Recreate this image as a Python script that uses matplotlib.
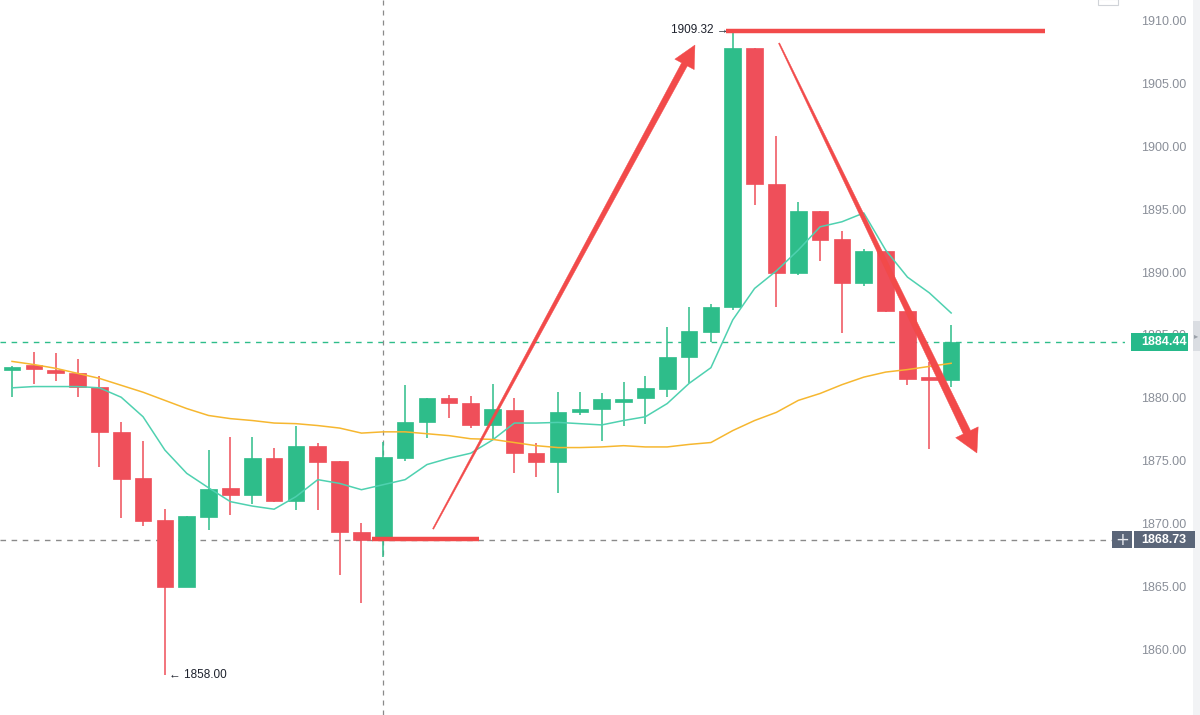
import numpy as np
import matplotlib
matplotlib.use("Agg")
import matplotlib.pyplot as plt
from matplotlib.patches import Polygon, Rectangle
from matplotlib.transforms import IdentityTransform

# ---------------- data ----------------
opens = [1882.2, 1882.6, 1882.2, 1882.0, 1880.85, 1877.3, 1873.6, 1870.3, 1864.95, 1870.5,
         1872.85, 1872.3, 1875.2, 1871.8, 1876.2, 1875.0, 1869.35, 1868.8, 1875.2, 1878.1,
         1880.0, 1879.6, 1877.85, 1879.0, 1875.6, 1874.9, 1878.9, 1879.1, 1879.65, 1880.0,
         1880.7, 1883.25, 1885.25, 1887.2, 1907.8, 1897.0, 1889.95, 1894.85, 1892.6, 1889.1,
         1891.7, 1886.9, 1881.65, 1881.4]
highs = [1882.5, 1883.65, 1883.6, 1883.1, 1881.7, 1878.1, 1876.6, 1871.2, 1870.6, 1875.85,
         1876.9, 1876.9, 1876.0, 1877.8, 1876.4, 1875.0, 1870.05, 1876.5, 1881.0, 1880.0,
         1880.2, 1880.15, 1881.1, 1880.0, 1876.4, 1880.5, 1880.5, 1880.4, 1881.3, 1881.75,
         1885.65, 1887.2, 1887.45, 1909.32, 1907.8, 1900.8, 1895.55, 1894.85, 1893.25, 1891.85,
         1891.7, 1886.9, 1882.85, 1885.8]
lows = [1880.1, 1881.1, 1881.35, 1880.1, 1874.5, 1870.45, 1869.8, 1858.0, 1864.95, 1869.5,
        1870.7, 1871.6, 1871.7, 1871.1, 1871.1, 1865.9, 1863.7, 1867.35, 1875.0, 1876.8,
        1878.4, 1877.6, 1876.65, 1874.0, 1873.7, 1872.4, 1878.6, 1876.6, 1877.8, 1877.9,
        1880.05, 1881.2, 1884.45, 1887.0, 1895.35, 1887.2, 1889.8, 1890.9, 1885.15, 1888.9,
        1886.85, 1881.0, 1875.95, 1880.9]
closes = [1882.3, 1882.3, 1881.95, 1880.85, 1877.3, 1873.55, 1870.2, 1864.95, 1870.6, 1872.75,
          1872.3, 1875.2, 1871.8, 1876.2, 1874.9, 1869.35, 1868.7, 1875.3, 1878.1, 1880.0,
          1879.6, 1877.85, 1879.1, 1875.6, 1874.9, 1878.85, 1879.1, 1879.9, 1879.95, 1880.8,
          1883.25, 1885.3, 1887.2, 1907.8, 1897.0, 1889.9, 1894.85, 1892.55, 1889.1, 1891.7,
          1886.9, 1881.5, 1881.4, 1884.44]

ma_fast = [1880.8, 1880.9, 1880.9, 1880.9, 1880.8, 1880.05, 1878.5, 1875.85, 1874.0, 1872.85,
           1871.75, 1871.4, 1871.15, 1872.15, 1873.5, 1873.2, 1872.7, 1873.1, 1873.5, 1874.7,
           1875.2, 1875.6, 1876.65, 1878.0, 1878.0, 1878.05, 1877.95, 1877.85, 1878.2, 1878.5,
           1879.55, 1881.15, 1882.4, 1886.2, 1888.7, 1890.1, 1891.75, 1893.6, 1894.0, 1894.7,
           1891.75, 1889.6, 1888.35, 1886.75]
ma_slow = [1882.9, 1882.65, 1882.35, 1881.95, 1881.55, 1881.0, 1880.45, 1879.8, 1879.15, 1878.6,
           1878.35, 1878.2, 1878.0, 1877.95, 1877.8, 1877.6, 1877.2, 1877.3, 1877.3, 1877.15,
           1877.0, 1876.75, 1876.7, 1876.45, 1876.2, 1876.05, 1876.05, 1876.1, 1876.2, 1876.1,
           1876.1, 1876.3, 1876.45, 1877.4, 1878.2, 1878.85, 1879.8, 1880.35, 1881.05, 1881.65,
           1882.05, 1882.25, 1882.5, 1882.75]

y_ticks = [1860, 1865, 1870, 1875, 1880, 1885, 1890, 1895, 1900, 1905, 1910]
last_price = 1884.44
cross_price = 1868.73
high_price = 1909.32
low_price = 1858.00
cross_index = 17

# annotation drawing points (candle index, price)
arrow_up = ((19.28, 1869.58), (31.27, 1908.05))
arrow_down = ((35.12, 1908.2), (44.18, 1875.62))
hline_low = ((16.5, 21.4), 1868.78)
hline_high = ((32.7, 47.3), 1909.15)

# ---------------- style ----------------
GREEN = "#2ebd8a"
RED = "#ef4f5a"
ARROW_RED = "#f24a4a"
FAST_C = "#4fd1b0"
SLOW_C = "#f6b730"
TICK_C = "#8a8f99"

W, H = 1200, 715
fig = plt.figure(figsize=(W / 100, H / 100), dpi=100)
fig.patch.set_facecolor("white")
ax = fig.add_axes([0, 0, 1125 / W, 1])
ax.set_facecolor("white")
for s in ax.spines.values():
    s.set_visible(False)

n = len(opens)
idx = np.arange(n)
body_w = 0.76
for i in range(n):
    o, h, l, c = opens[i], highs[i], lows[i], closes[i]
    col = GREEN if c >= o else RED
    ax.vlines(i, l, h, color=col, lw=1.3, alpha=0.85, zorder=3)
    lo, hi = min(o, c), max(o, c)
    ax.add_patch(Rectangle((i - body_w / 2, lo), body_w, max(hi - lo, 0.25),
                           facecolor=col, edgecolor=col, lw=0.5, zorder=4))

ax.plot(idx, ma_fast, color=FAST_C, lw=1.1, zorder=5)
ax.plot(idx, ma_slow, color=SLOW_C, lw=1.1, zorder=5)

# crosshair / last price lines
ax.axhline(last_price, color="#2ebd8a", lw=1.0, ls=(0, (4, 4)), zorder=2)
ax.axhline(cross_price, color="#8a8a8a", lw=1.0, ls=(0, (4, 4)), zorder=2)
ax.axvline(cross_index, color="#8a8a8a", lw=0.9, ls=(0, (4, 4)), zorder=2)

# red horizontal annotation lines
ax.plot(hline_low[0], [hline_low[1]] * 2, color=ARROW_RED, lw=3.2, solid_capstyle="butt", zorder=6)
ax.plot(hline_high[0], [hline_high[1]] * 2, color=ARROW_RED, lw=3.2, solid_capstyle="butt", zorder=6)

xmin, xmax = -0.55, 50.96
ymin, ymax = 1854.79, 1911.63
ax.set_xlim(xmin, xmax)
ax.set_ylim(ymin, ymax)
ax.set_xticks([])
ax.yaxis.tick_right()
ax.set_yticks(y_ticks)
ax.set_yticklabels([f"{v:.2f}" for v in y_ticks])
ax.tick_params(axis="y", length=0, pad=11.5, labelsize=9, labelcolor=TICK_C)
for t in ax.get_yticklabels():
    t.set_fontfamily("Liberation Sans")

# high / low labels
ax.annotate("1909.32 \u2192", xy=(33, high_price), xytext=(-4, -1), textcoords="offset pixels",
            ha="right", va="center", fontsize=8.5, color="#1e222d", family="Liberation Sans", zorder=7)
ax.annotate("\u2190 1858.00", xy=(7, low_price), xytext=(4, 0), textcoords="offset pixels",
            ha="left", va="center", fontsize=8.5, color="#1e222d", family="Liberation Sans", zorder=7)

fig.canvas.draw()
T = ax.transData


def tapered_arrow(p0, p1, w0, w1, head_len, head_w, color):
    a = np.array(T.transform(p0))
    b = np.array(T.transform(p1))
    d = b - a
    L = np.hypot(*d)
    u = d / L
    nrm = np.array([-u[1], u[0]])
    base = b - u * head_len
    pts = [a + nrm * w0 / 2, base + nrm * w1 / 2, base + nrm * head_w / 2, b,
           base - nrm * head_w / 2, base - nrm * w1 / 2, a - nrm * w0 / 2]
    fig.add_artist(Polygon(pts, closed=True, facecolor=color, edgecolor=color, lw=0.3,
                           transform=IdentityTransform(), zorder=8))


tapered_arrow(*arrow_up, 1.2, 6.5, 22, 22, ARROW_RED)
tapered_arrow(*arrow_down, 1.2, 8.0, 23, 25, ARROW_RED)

# right-side price boxes (figure pixel space, y from data)
def ypix(p):
    return T.transform((0, p))[1]

yl = ypix(last_price)
fig.add_artist(Rectangle((1131, yl - 9), 57, 18, facecolor="#26b98a", edgecolor="none",
                         transform=IdentityTransform(), zorder=9))
fig.text(1187 / W, yl / H, f"{last_price:.2f}", ha="right", va="center", color="white",
         fontsize=9, fontweight="bold", family="Liberation Sans", zorder=10)

yc = ypix(cross_price)
fig.add_artist(Rectangle((1112, yc - 8.5), 20, 17, facecolor="#5b6679", edgecolor="none",
                         transform=IdentityTransform(), zorder=9))
fig.add_artist(Rectangle((1134, yc - 8.5), 61, 17, facecolor="#5b6679", edgecolor="none",
                         transform=IdentityTransform(), zorder=9))
fig.text(1122 / W, yc / H, "+", ha="center", va="center", color="#e8eaef",
         fontsize=12, family="DejaVu Sans", zorder=10)
fig.text(1186 / W, yc / H, f"{cross_price:.2f}", ha="right", va="center", color="white",
         fontsize=9, fontweight="bold", family="Liberation Sans", zorder=10)

# right scroll strip
fig.add_artist(Rectangle((1193, 0), 7, H, facecolor="#f2f3f5", edgecolor="none",
                         transform=IdentityTransform(), zorder=1))
fig.add_artist(Rectangle((1193, yl - 9), 7, 30, facecolor="#dadde2", edgecolor="none",
                         transform=IdentityTransform(), zorder=2))
fig.text(1196.5 / W, (yl + 6) / H, "\u25b8", ha="center", va="center", color="#9aa0a8",
         fontsize=6, zorder=3)
fig.add_artist(Rectangle((1098, H - 5), 20, 6, facecolor="white", edgecolor="#d0d3d8", lw=0.8,
                         transform=IdentityTransform(), zorder=2))

fig.savefig("out.png", dpi=100, facecolor="white")
